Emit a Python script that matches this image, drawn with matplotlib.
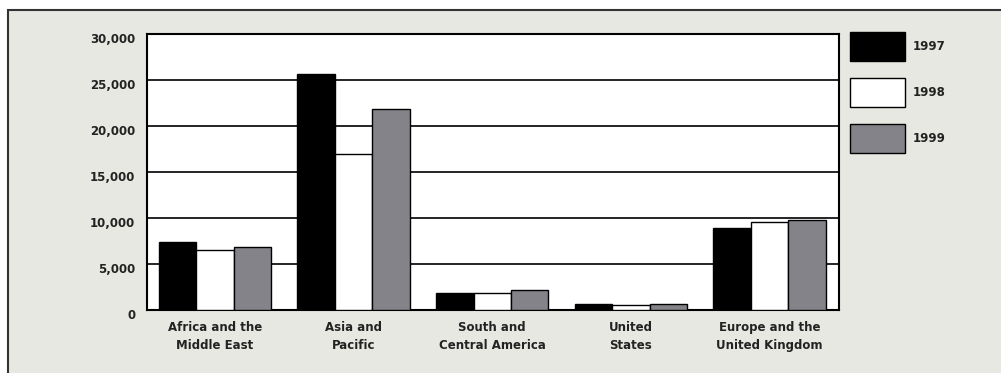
import matplotlib.pyplot as plt
import numpy as np
from matplotlib.patches import Rectangle
from matplotlib.transforms import ScaledTranslation

# data
regions = ["Africa and the\nMiddle East", "Asia and\nPacific", "South and\nCentral America",
           "United\nStates", "Europe and the\nUnited Kingdom"]
years = ["1997", "1998", "1999"]
v1997 = [7400, 25700, 1900, 650, 8900]
v1998 = [6500, 17000, 1800, 500, 9600]
v1999 = [6800, 21800, 2200, 650, 9800]
yticks = [0, 5000, 10000, 15000, 20000, 25000, 30000]

bg = "#e8e8e2"
gray99 = "#85838a"
txt = "#222222"

plt.rcParams["font.family"] = ["DejaVu Sans"]

fig = plt.figure(figsize=(10.01, 3.73), dpi=100)
fig.patch.set_facecolor("white")

# textured panel with a dark frame (runs off the right and bottom edge)
frame = Rectangle((8 / 1001, -0.2), 1.2, 1.2 - 10 / 373, transform=fig.transFigure,
                  facecolor=bg, edgecolor="#333333", linewidth=1.5, zorder=-5)
fig.patches.append(frame)

ax = fig.add_axes([147 / 1001, 63 / 373, 692 / 1001, 276 / 373])
ax.set_facecolor("white")

x = np.arange(len(regions))
w = 0.27
series = [v1997, v1998, v1999]
colors = ["black", "white", gray99]
for i, (vals, c, yr) in enumerate(zip(series, colors, years)):
    ax.bar(x + (i - 1) * w, vals, width=w, color=c, edgecolor="black",
           linewidth=1, label=yr, zorder=3)

ax.set_xlim(-0.49, 4.5)
ax.set_ylim(0, 30000)
ax.set_yticks(yticks)
ax.set_yticklabels([f"{v:,}" for v in yticks], fontsize=8.5, fontweight="bold", color=txt)
ax.set_xticks(x)
ax.set_xticklabels(regions, fontsize=8.5, fontweight="bold", color=txt, linespacing=1.5)
ax.tick_params(axis="both", length=0)
ax.tick_params(axis="y", pad=8.5)
ax.tick_params(axis="x", pad=8)

off = ScaledTranslation(0, -4 / 100, fig.dpi_scale_trans)
for lab in ax.get_yticklabels():
    lab.set_transform(lab.get_transform() + off)

ax.yaxis.grid(True, color="black", linewidth=1.2)
ax.set_axisbelow(True)
for s in ax.spines.values():
    s.set_linewidth(1.5)
    s.set_color("black")

leg = fig.legend(loc="upper left", bbox_to_anchor=(850 / 1001, 1 - 32 / 373),
                 frameon=False, fontsize=8.5, handlelength=4.7, handleheight=3.4,
                 labelspacing=1.45, handletextpad=0.6, borderpad=0, borderaxespad=0)
for t in leg.get_texts():
    t.set_fontweight("bold")
    t.set_color(txt)

fig.savefig("out.png", dpi=100, facecolor=fig.get_facecolor())
